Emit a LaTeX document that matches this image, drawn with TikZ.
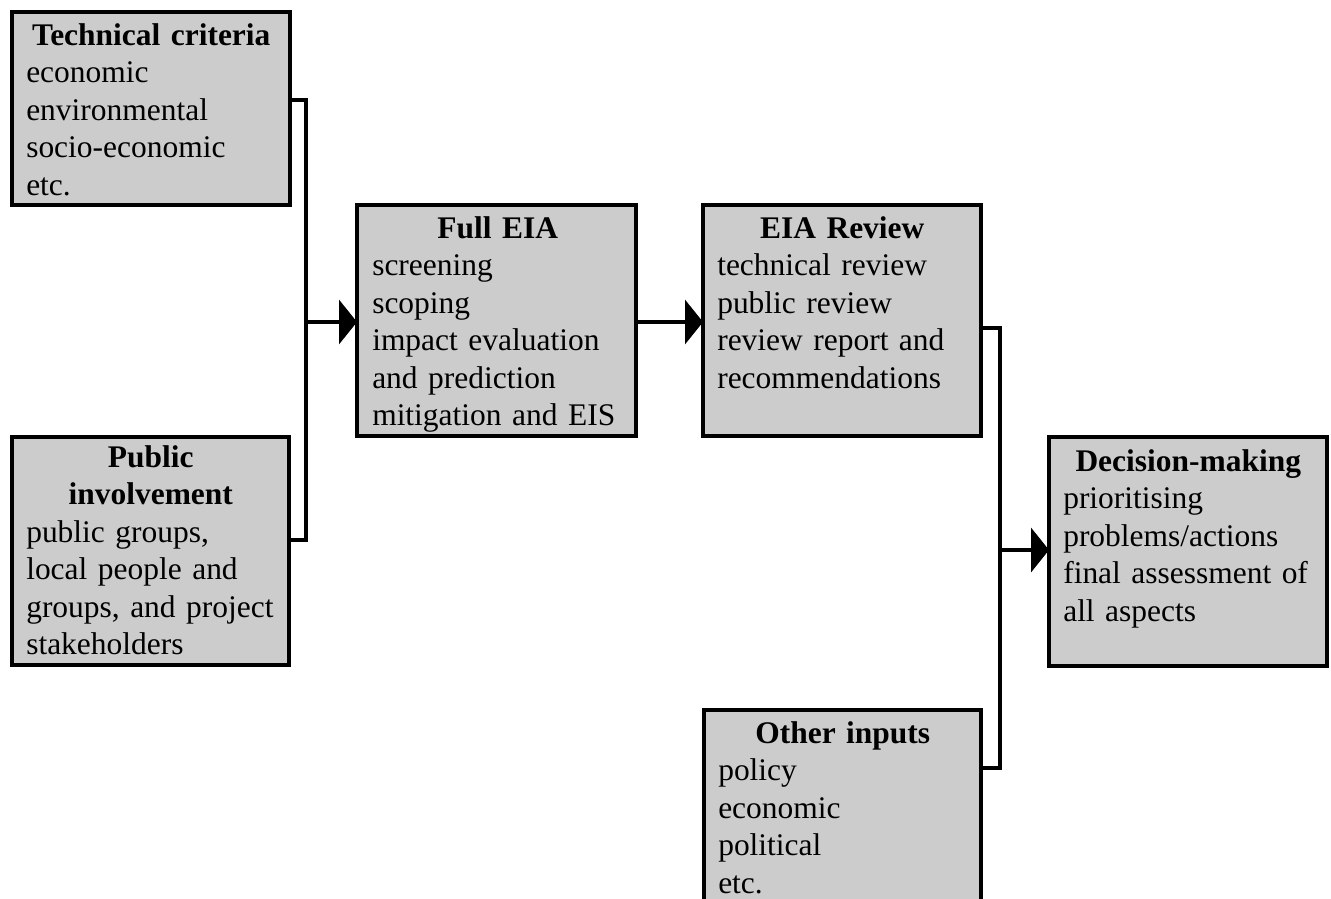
\documentclass[tikz,border=0pt]{standalone}
\usepackage{fontspec}
\setmainfont{Liberation Serif}
\usetikzlibrary{arrows.meta}
\definecolor{boxfill}{RGB}{204,204,204}
\begin{document}
\begin{tikzpicture}[x=0.75pt,y=-0.75pt,
  box/.style={draw=black,fill=boxfill,line width=3pt,rectangle,inner sep=0pt,
    outer sep=0pt,anchor=north west},
  boxtext/.style={anchor=north west,inner sep=0pt,align=left,
    font=\fontsize{23.6pt}{28.1pt}\selectfont},
  conn/.style={line width=3pt,line join=miter},
  feed/.style={conn,-{Triangle[length=13.5pt,width=33pt]}}]

\useasboundingbox (0,0) rectangle (1331,899);
\clip (0,0) rectangle (1331,899);

% boxes
\node[box,minimum width=208.5pt,minimum height=144.75pt] (tc) at (12,12) {};
\node[box,minimum width=207.75pt,minimum height=171pt] (pi) at (12,437) {};
\node[box,minimum width=209.25pt,minimum height=173.25pt] (eia) at (357,205) {};
\node[box,minimum width=208.5pt,minimum height=173.25pt] (rev) at (703,205) {};
\node[box,minimum width=208.5pt,minimum height=171.75pt] (dm) at (1049,437) {};
\node[box,minimum width=207.75pt,minimum height=172.5pt] (oth) at (704,710) {};

% box texts
\node[boxtext,text width=187.5pt] (tc-text) at ([shift={(14,7)}]tc.north west)
  {\makebox[\linewidth]{\bfseries\strut Technical criteria}\\
   economic\\ environmental\\ socio-economic\\ etc.};
\node[boxtext,text width=186.75pt] (pi-text) at ([shift={(14,4)}]pi.north west)
  {\makebox[\linewidth]{\bfseries\strut Public}\\
   \makebox[\linewidth]{\bfseries involvement}\\
   public groups,\\ local people and\\ groups, and project\\ stakeholders};
\node[boxtext,text width=188.25pt] (eia-text) at ([shift={(15,7)}]eia.north west)
  {\makebox[\linewidth]{\bfseries\strut Full EIA}\\
   screening\\ scoping\\ impact evaluation\\ and prediction\\ mitigation and EIS};
\node[boxtext,text width=187.5pt] (rev-text) at ([shift={(14,7)}]rev.north west)
  {\makebox[\linewidth]{\bfseries\strut EIA Review}\\
   technical review\\ public review\\ review report and\\ recommendations};
\node[boxtext,text width=187.5pt] (dm-text) at ([shift={(14,8)}]dm.north west)
  {\makebox[\linewidth]{\bfseries\strut Decision-making}\\
   prioritising\\ problems/actions\\ final assessment of\\ all aspects};
\node[boxtext,text width=186.75pt] (oth-text) at ([shift={(14,7)}]oth.north west)
  {\makebox[\linewidth]{\bfseries\strut Other inputs}\\
   policy\\ economic\\ political\\ etc.};

% junction points of the bracket connectors
\coordinate (jt) at (306,100);
\coordinate (jm) at (306,322);
\coordinate (jb) at (306,540);
\coordinate (kt) at (1000,328);
\coordinate (km) at (1000,550);
\coordinate (kb) at (1000,768);

% connectors
\draw[conn] (jt -| tc.east) -- (jt) -- (jb) -- (jb -| pi.east);
\draw[feed] (jm) -- (jm -| eia.west);
\draw[feed] (jm -| eia.east) -- (jm -| rev.west);
\draw[conn] (kt -| rev.east) -- (kt) -- (kb) -- (kb -| oth.east);
\draw[feed] (km) -- (km -| dm.west);
\end{tikzpicture}
\end{document}
